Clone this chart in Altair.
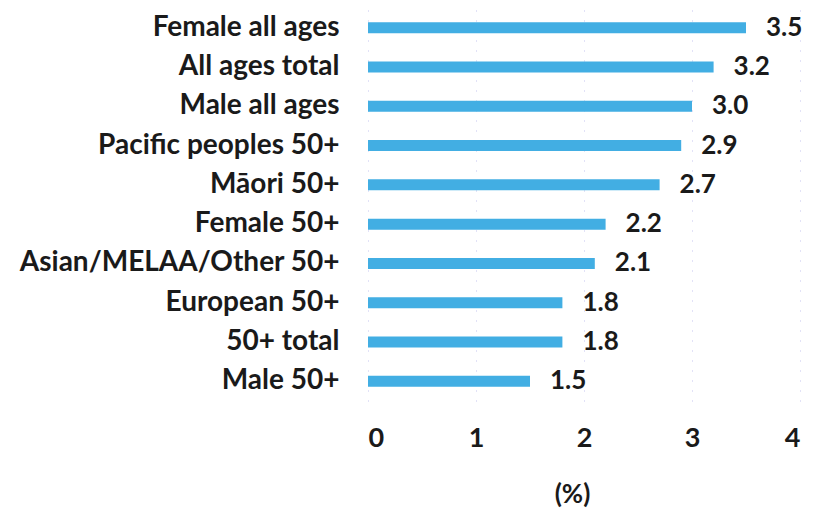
import altair as alt
import pandas as pd

categories = ["Female all ages", "All ages total", "Male all ages", "Pacific peoples 50+",
              "Māori 50+", "Female 50+", "Asian/MELAA/Other 50+", "European 50+",
              "50+ total", "Male 50+"]
values = [3.5, 3.2, 3.0, 2.9, 2.7, 2.2, 2.1, 1.8, 1.8, 1.5]
x_ticks = [0, 1, 2, 3, 4]

df = pd.DataFrame({"category": categories, "value": values})
df["label"] = [f"{v:.1f}" for v in values]

FONT = "Lato"
TXT = "#1a1a1a"

base = alt.Chart(df).encode(
    y=alt.Y("category:N", sort=categories,
            scale=alt.Scale(paddingInner=0.72, paddingOuter=0.36),
            axis=alt.Axis(title=None, ticks=False, domain=False, labelPadding=29,
                          labelFont=FONT, labelFontSize=28, labelFontWeight="bold",
                          labelColor=TXT, labelLimit=400)),
)

bars = base.mark_bar(size=11, color="#42AEE3").encode(
    x=alt.X("value:Q", scale=alt.Scale(domain=[0, 4], nice=False),
            axis=alt.Axis(title="(%)", values=x_ticks, format="d", ticks=False, domain=False,
                          grid=True, gridColor="#c4c4ee", gridDash=[1, 9], gridWidth=1,
                          labelPadding=24, labelFont=FONT, labelFontSize=27,
                          labelFontWeight="bold", labelColor=TXT,
                          titleFont=FONT, titleFontSize=26, titleFontWeight="bold",
                          titleColor=TXT, titlePadding=30, titleX=204, titleAlign="center"))
)

text = base.mark_text(align="left", baseline="middle", dx=20, font=FONT, fontSize=26,
                      fontWeight="bold", color=TXT).encode(
    x=alt.X("value:Q"), text="label:N")

chart = (bars + text).properties(
    width=432, height=393,
    autosize=alt.AutoSizeParams(type="none"),
    padding={"left": 360, "top": 0, "right": 9, "bottom": 112},
).configure_view(stroke=None)

chart.save("out.html", embed_options={"renderer": "svg", "actions": False})
